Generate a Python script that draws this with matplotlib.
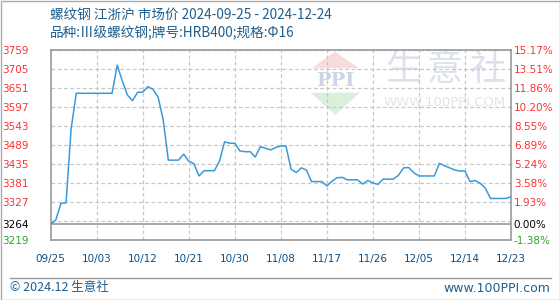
import matplotlib
matplotlib.use("Agg")
import matplotlib.pyplot as plt
from matplotlib.patches import Polygon, Rectangle
from matplotlib.lines import Line2D
import numpy as np
import pandas as pd

plt.rcParams['font.family'] = ['Noto Sans CJK SC', 'DejaVu Sans']

# daily market price, 2024-09-25 .. 2024-12-24
dates = pd.date_range("2024-09-25", "2024-12-24", freq="D")
prices = [3264, 3276, 3323, 3325, 3536, 3636, 3636, 3636, 3636, 3636,
          3636, 3636, 3636, 3716, 3671, 3631, 3615, 3639, 3639, 3655,
          3647, 3625, 3560, 3446, 3446, 3446, 3463, 3443, 3436, 3401,
          3416, 3416, 3416, 3443, 3498, 3494, 3494, 3472, 3470, 3470,
          3455, 3484, 3480, 3475, 3482, 3486, 3486, 3420, 3411, 3424,
          3418, 3385, 3385, 3385, 3373, 3386, 3396, 3397, 3390, 3390,
          3390, 3378, 3388, 3381, 3377, 3392, 3392, 3392, 3403, 3424,
          3425, 3410, 3401, 3401, 3401, 3401, 3437, 3430, 3424, 3418,
          3415, 3415, 3385, 3388, 3380, 3366, 3337, 3337, 3337, 3337, 3342]
base_price = 3264
y_min = 3219
y_step = 54
x_labels = ["09/25", "10/03", "10/12", "10/21", "10/30", "11/08",
            "11/17", "11/26", "12/05", "12/14", "12/23"]

title1 = "螺纹钢 江浙沪 市场价 2024-09-25 - 2024-12-24"
title2 = "品种:Ⅲ级螺纹钢;牌号:HRB400;规格:Φ16"

W, H = 560, 300
fig = plt.figure(figsize=(5.6, 3.0), dpi=100)
ax_l, ax_r, ax_t, ax_b = 50.7, 511, 50, 240
ax = fig.add_axes([ax_l / W, 1 - ax_b / H, (ax_r - ax_l) / W, (ax_b - ax_t) / H])

grid_vals = [y_min + y_step * k for k in range(11)]
y_max = grid_vals[-1]

ax.plot(dates, prices, color="#3a9ad9", lw=1.1, zorder=3)
ax.set_xlim(dates[0], dates[-1])
ax.set_ylim(y_min, y_max)

# grid
for v in grid_vals:
    ax.axhline(v, color="#c8c8c8", lw=0.9, ls=(0, (3, 2)), zorder=1)
x_pos = [dates[0] + pd.Timedelta(days=9 * k) for k in range(11)]
for xp in x_pos[1:-1]:
    ax.axvline(xp, color="#c8c8c8", lw=0.9, ls=(0, (3, 2)), zorder=1)
ax.axhline(base_price, color="#999999", lw=1.2, zorder=2)

for s in ax.spines.values():
    s.set_color("#999999")
    s.set_linewidth(1.2)

# y tick labels
label_vals = [v for v in grid_vals if v != y_min + y_step] + [base_price]
label_vals.sort()


def col(v):
    if v > base_price:
        return "#ff3030"
    if v < base_price:
        return "#2aa52a"
    return "#000000"


ax.set_yticks(label_vals)
ax.set_yticklabels([str(v) for v in label_vals], fontsize=7.5, family="DejaVu Sans")
ax.tick_params(axis="y", length=0, pad=16)
for t, v in zip(ax.get_yticklabels(), label_vals):
    t.set_color(col(v))

ax2 = ax.twinx()
ax2.set_ylim(y_min, y_max)
ax2.set_yticks(label_vals)
ax2.set_yticklabels(["%.2f%%" % ((v - base_price) / base_price * 100) for v in label_vals],
                    fontsize=7.5, family="DejaVu Sans")
ax2.tick_params(axis="y", length=0, pad=2)
for t, v in zip(ax2.get_yticklabels(), label_vals):
    t.set_color(col(v))
for s in ax2.spines.values():
    s.set_visible(False)

ax.set_xticks(x_pos)
ax.set_xticklabels(x_labels, fontsize=7.5, color="#0a4f85", family="DejaVu Sans")
ax.tick_params(axis="x", length=0, pad=10)


# watermark (pixel coords -> axes fraction)
def af(x, y):
    return ((x - ax_l) / (ax_r - ax_l), (ax_b - y) / (ax_b - ax_t))


ax.add_patch(Polygon([af(311.7, 68.3), af(359.3, 68.3), af(335, 51.7)],
                     closed=True, transform=ax.transAxes, color="#f8dcdc", lw=0, zorder=0.5))
ax.add_patch(Polygon([af(310.7, 92.7), af(360, 92.7), af(335, 115)],
                     closed=True, transform=ax.transAxes, color="#d8f0dc", lw=0, zorder=0.5))
ax.text(*af(335, 80.5), "PPI", transform=ax.transAxes, ha="center", va="center",
        fontsize=14, fontweight="bold", family="DejaVu Serif", color="#cdd6e8", zorder=0.5)
for ch, cx in zip("生意社", [403, 445, 488]):
    ax.text(*af(cx, 70), ch, transform=ax.transAxes, ha="center", va="center",
            fontsize=26, color="#dce1eb", zorder=0.5)
ax.text(*af(445, 103), "WWW.100PPI.COM", transform=ax.transAxes, ha="center", va="center",
        fontsize=9.5, color="#e4e4e4", family="DejaVu Sans", zorder=0.5)

# titles
fig.text(50 / W, 1 - 15 / H, title1, fontsize=9.8, color="#1f5f8f", va="center")
fig.text(50 / W, 1 - 33 / H, title2, fontsize=9.8, color="#1f5f8f", va="center")

# footer
fig.add_artist(Line2D([10 / W, 551 / W], [1 - 277.5 / H, 1 - 277.5 / H], color="#999999", lw=1))
fig.text(10 / W, 1 - 288 / H, "© 2024.12 生意社", fontsize=9, color="#1f5f8f", va="center")
fig.text(550 / W, 1 - 288 / H, "www.100PPI.com", fontsize=9, color="#1f5f8f", va="center", ha="right",
         family="DejaVu Sans")
fig.add_artist(Rectangle((0.5 / W, 0.5 / H), 1 - 1 / W, 1 - 1 / H, transform=fig.transFigure,
                         fill=False, edgecolor="#aaaaaa", lw=1))

fig.savefig("out.png", dpi=100)
